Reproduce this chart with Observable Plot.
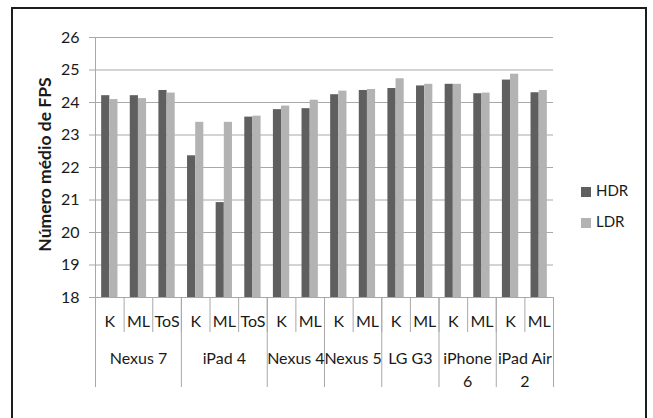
<!DOCTYPE html>
<html>
<head>
<meta charset="utf-8">
<script src="https://cdn.jsdelivr.net/npm/d3@7"></script>
<script src="https://cdn.jsdelivr.net/npm/@observablehq/plot@0.6"></script>
<style>
  body { margin: 0; background: #fff; font-family: Lato, "Open Sans", sans-serif; }
  #wrap { position: relative; width: 653px; height: 418px; overflow: hidden; }
  #wrap svg { position: absolute; left: 0; top: 0; }
  #border { position: absolute; left: 11px; top: 7px; width: 636px; height: 440px;
            border: 2px solid #1c1c1c; box-sizing: border-box; }
  .key { position: absolute; left: 581px; font-size: 15px; color: #1a1a1a; line-height: 1; }
  .key span { display: inline-block; width: 10px; height: 10px; margin-right: 5px; vertical-align: -1px; }
</style>
</head>
<body>
<div id="wrap">
  <div id="border"></div>
</div>
<script>
// Average frame rate per device and OS version, HDR vs LDR rendering
const devices = ["Nexus 7", "iPad 4", "Nexus 4", "Nexus 5", "LG G3", "iPhone 6", "iPad Air 2"];
const deviceLabels = ["Nexus 7", "iPad 4", "Nexus 4", "Nexus 5", "LG G3", "iPhone\n6", "iPad Air\n2"];
const slotDevice = ["Nexus 7", "Nexus 7", "Nexus 7", "iPad 4", "iPad 4", "iPad 4",
                    "Nexus 4", "Nexus 4", "Nexus 5", "Nexus 5", "LG G3", "LG G3",
                    "iPhone 6", "iPhone 6", "iPad Air 2", "iPad Air 2"];
const versions = ["K", "ML", "ToS", "K", "ML", "ToS", "K", "ML", "K", "ML", "K", "ML", "K", "ML", "K", "ML"];
const hdr = [24.21, 24.21, 24.37, 22.36, 20.92, 23.55, 23.78, 23.81, 24.24, 24.37, 24.43, 24.51, 24.56, 24.27, 24.69, 24.30];
const ldr = [24.09, 24.12, 24.29, 23.39, 23.39, 23.58, 23.89, 24.07, 24.35, 24.40, 24.73, 24.56, 24.56, 24.29, 24.87, 24.37];
const series = ["HDR", "LDR"];
const colors = ["#5f5f5f", "#b3b3b3"];
const yTicks = [18, 19, 20, 21, 22, 23, 24, 25, 26];

// each category slot spans one unit on x
const slots = versions.map((v, i) => ({i, device: slotDevice[i], version: v}));
const bars = slots.flatMap(s => [
  {i: s.i, series: "HDR", value: hdr[s.i]},
  {i: s.i, series: "LDR", value: ldr[s.i]}
]);
const barW = 0.285;

// group spans derived from the slot devices
const groups = devices.map((d, k) => {
  const idx = slots.filter(s => s.device === d).map(s => s.i);
  return {label: deviceLabels[k], start: d3.min(idx), end: d3.max(idx) + 1};
});
const groupEdges = [0, ...groups.map(g => g.end)];

const grid = "#a8a8a8";
const ink = "#1a1a1a";

const chart = Plot.plot({
  width: 653,
  height: 418,
  marginLeft: 95,
  marginRight: 100,
  marginTop: 37,
  marginBottom: 121,
  x: {domain: [0, slots.length], axis: null},
  y: {domain: [18, 26], axis: null},
  color: {domain: series, range: colors},
  style: {fontFamily: "Lato, 'Open Sans', sans-serif", fontSize: "16px", color: ink, background: "transparent"},
  marks: [
    // horizontal gridlines with short ticks left of the axis
    Plot.ruleY(yTicks, {x1: 0, x2: slots.length, insetLeft: -6, stroke: grid}),
    // value axis line
    Plot.ruleX([0], {y1: 18, y2: 26, stroke: grid}),
    // tick labels
    Plot.text(yTicks, {x: 0, y: d => d, text: d => String(d), textAnchor: "end", dx: -16, fill: ink}),
    // bars
    Plot.rect(bars, {
      x1: d => d.i + 0.5 + (d.series === "HDR" ? -barW : 0),
      x2: d => d.i + 0.5 + (d.series === "HDR" ? 0 : barW),
      y1: 18,
      y2: "value",
      fill: "series"
    }),
    // category separators
    Plot.ruleX(d3.range(slots.length + 1), {x: d => d, y1: 18, y2: 18, insetBottom: -35, stroke: grid}),
    Plot.ruleX(groupEdges, {x: d => d, y1: 18, y2: 18, insetBottom: -90, stroke: grid}),
    // version labels
    Plot.text(slots, {x: d => d.i + 0.5, y: 18, text: "version", dy: 24, fill: ink}),
    // device labels
    Plot.text(groups, {x: d => (d.start + d.end) / 2, y: 18, text: "label", lineAnchor: "top", dy: 50, lineHeight: 1.45, fill: ink}),
    // value axis title
    Plot.text(["Número médio de FPS"], {frameAnchor: "left", textAnchor: "middle", dx: -50, dy: -3, rotate: -90,
      fontWeight: "bold", fontSize: 17.5, fill: ink})
  ]
});

const wrap = document.getElementById("wrap");
wrap.insertBefore(chart, wrap.firstChild);

// legend
series.forEach((s, k) => {
  const div = document.createElement("div");
  div.className = "key";
  div.style.top = (183 + k * 31) + "px";
  div.innerHTML = `<span style="background:${colors[k]}"></span>${s}`;
  wrap.appendChild(div);
});
</script>
</body>
</html>
